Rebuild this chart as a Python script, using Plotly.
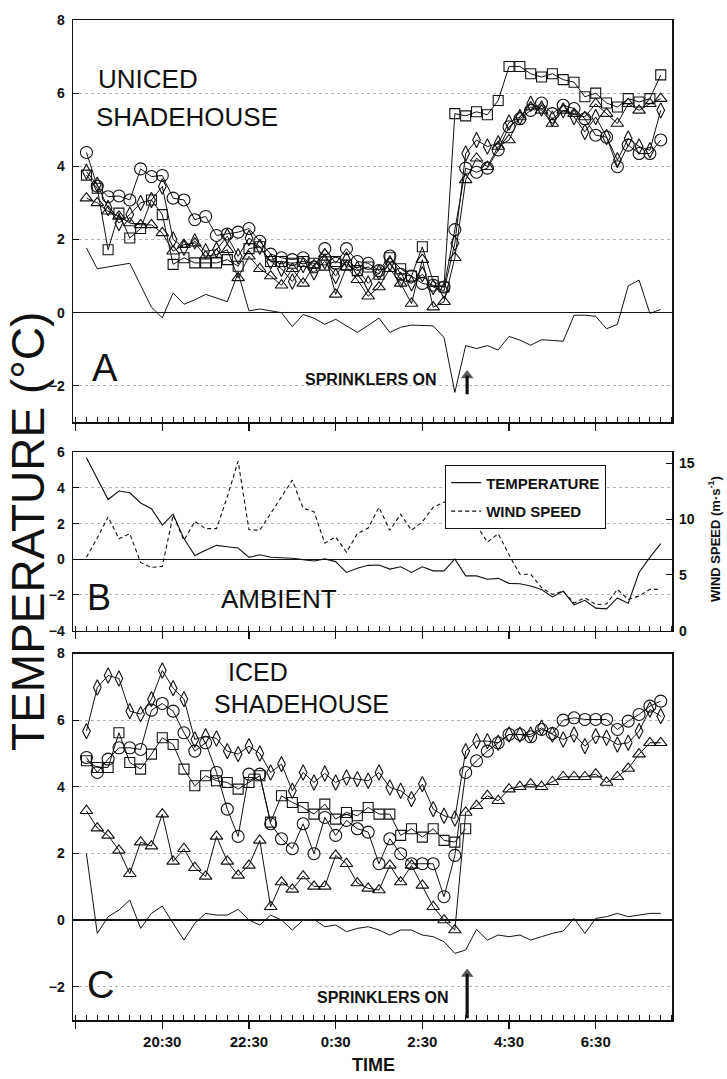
import plotly.graph_objects as go

# ---------------- data ----------------
TIMES = ["18:45", "19:00", "19:15", "19:30", "19:45", "20:00", "20:15", "20:30", "20:45", "21:00",
         "21:15", "21:30", "21:45", "22:00", "22:15", "22:30", "22:45", "23:00", "23:15", "23:30",
         "23:45", "0:00", "0:15", "0:30", "0:45", "1:00", "1:15", "1:30", "1:45", "2:00",
         "2:15", "2:30", "2:45", "3:00", "3:15", "3:30", "3:45", "4:00", "4:15", "4:30",
         "4:45", "5:00", "5:15", "5:30", "5:45", "6:00", "6:15", "6:30", "6:45", "7:00",
         "7:15", "7:30", "7:45", "8:00"]

TICK_LABELS = ["20:30", "22:30", "0:30", "2:30", "4:30", "6:30"]

# Panel A - uniced shadehouse
A_SQUARE = [3.76, 3.4, 1.72, 2.72, 2.04, 2.3, 3.08, 2.68, 1.32, 1.5, 1.36, 1.36, 1.36, 1.45, 1.27, 1.75,
            1.8, 1.4, 1.4, 1.35, 1.4, 1.35, 1.3, 1.4, 1.3, 1.15, 1.25, 1.05, 1.5, 1.2, 1.0, 1.8, 0.85, 0.7,
            5.44, 5.38, 5.49, 5.41, 5.8, 6.73, 6.73, 6.53, 6.44, 6.53, 6.37, 6.3, 5.9, 6.0, 5.73, 5.62,
            5.85, 5.76, 5.85, 6.5]
A_CIRCLE = [4.38, 3.46, 3.17, 3.19, 3.08, 3.93, 3.72, 3.75, 3.13, 3.08, 2.54, 2.63, 2.11, 2.15, 2.2, 2.3,
            1.95, 1.6, 1.5, 1.45, 1.5, 1.25, 1.75, 1.35, 1.75, 1.4, 1.35, 1.15, 1.55, 1.05, 1.0, 0.8, 0.75, 0.7,
            2.27, 3.95, 3.84, 3.95, 4.45, 5.08, 5.3, 5.53, 5.73, 5.44, 5.67, 5.58, 5.3, 4.85, 4.8, 3.99,
            4.58, 4.35, 4.35, 4.72]
A_DIAMOND = [3.85, 3.5, 2.86, 2.45, 2.68, 3.0, 3.08, 3.45, 2.0, 1.77, 1.95, 1.68, 1.72, 2.09, 1.54, 2.04,
             1.8, 1.4, 1.2, 0.85, 1.3, 1.1, 1.4, 1.0, 1.45, 1.2, 0.8, 1.1, 1.35, 0.9, 0.8, 1.05, 0.7, 0.6,
             1.9, 4.35, 4.72, 4.54, 4.63, 5.2, 5.35, 5.71, 5.58, 5.3, 5.53, 5.35, 4.94, 5.35, 4.8, 4.17,
             4.76, 4.54, 4.44, 5.53]
A_TRIANGLE = [3.13, 3.0, 2.77, 2.63, 2.45, 2.4, 2.4, 2.18, 1.68, 1.86, 1.9, 1.54, 1.59, 1.72, 0.95, 1.54,
              1.2, 1.0, 0.75, 1.2, 0.8, 1.3, 1.6, 0.5, 1.25, 0.9, 0.45, 0.7, 1.2, 0.8, 0.25, 1.45, 0.15, 0.3,
              1.5, 3.63, 4.22, 3.99, 4.54, 4.72, 5.35, 5.62, 5.53, 5.17, 5.53, 5.44, 5.35, 5.71, 5.44, 5.17,
              5.71, 5.53, 5.71, 5.85]
A_LINE = [1.77, 1.2, 1.25, 1.3, 1.35, 0.75, 0.15, -0.14, 0.54, 0.23, 0.35, 0.5, 0.4, 0.3, 1.09, 0.05,
          0.1, 0.05, 0.0, -0.38, -0.05, -0.15, -0.32, -0.18, -0.35, -0.54, -0.35, -0.15, -0.54, -0.4,
          -0.34, -0.35, -0.36, -0.68, -2.18, -0.9, -0.98, -0.9, -1.02, -0.65, -0.75, -0.89, -0.74, -0.76,
          -0.78, -0.07, -0.07, -0.1, -0.44, -0.32, 0.73, 0.89, -0.02, 0.09]

# Panel B - ambient
B_TEMP = [5.7, 4.5, 3.35, 3.83, 3.73, 3.16, 2.84, 1.92, 2.53, 1.16, 0.21, 0.5, 0.78, 0.7, 0.63, 0.11,
          0.25, 0.11, 0.08, 0.06, -0.02, -0.1, 0.02, -0.13, -0.74, -0.5, -0.34, -0.32, -0.55, -0.42,
          -0.74, -0.42, -0.65, -0.65, 0.02, -0.93, -0.93, -1.12, -1.07, -1.35, -1.37, -1.5, -1.7, -2.11,
          -1.79, -2.55, -2.3, -2.74, -2.78, -2.17, -2.46, -0.74, 0.11, 0.88]
B_WIND = [6.58, 8.3, 10.2, 8.24, 8.7, 6.12, 5.67, 5.76, 10.36, 8.1, 9.8, 9.15, 9.15, 12.0, 15.2, 9.06,
          9.0, 10.5, 12.0, 13.5, 10.97, 10.67, 7.85, 8.4, 7.03, 8.7, 9.2, 11.06, 9.0, 10.45, 9.0, 9.76,
          11.06, 11.5, 12.0, 11.0, 9.5, 7.94, 8.7, 6.8, 5.06, 5.06, 3.85, 3.24, 3.55, 2.48, 2.94, 2.33,
          2.4, 3.7, 2.79, 3.1, 3.7, 3.7]

# Panel C - iced shadehouse
C_SQUARE = [4.78, 4.58, 4.58, 5.62, 4.73, 4.53, 4.98, 5.47, 5.27, 4.53, 4.03, 4.33, 4.18, 4.13, 3.93, 4.13,
            4.33, 2.94, 3.73, 3.53, 3.38, 3.18, 3.48, 3.03, 3.23, 3.13, 3.38, 3.18, 3.18, 2.54, 2.74, 2.49,
            2.74, 2.39, 2.34, 2.74] + [None] * 18
C_CIRCLE = [4.88, 4.43, 4.83, 5.17, 5.17, 5.12, 6.3, 6.5, 6.27, 5.62, 5.07, 5.32, 4.43, 3.33, 2.51, 4.38,
            4.38, 2.89, 2.44, 2.14, 2.89, 1.99, 3.08, 2.54, 2.99, 2.74, 2.64, 1.69, 2.44, 1.99, 1.69, 1.69,
            1.69, 0.7, 1.94, 4.43, 4.78, 5.07, 5.32, 5.57, 5.57, 5.5, 5.72, 5.6, 6.0, 6.07, 6.02, 6.02,
            6.02, 5.72, 5.97, 6.17, 6.42, 6.57]
C_DIAMOND = [5.67, 6.98, 7.34, 7.25, 6.27, 6.18, 6.63, 7.49, 6.96, 6.63, 5.42, 5.52, 5.45, 5.07, 4.98, 5.22,
             5.0, 4.43, 4.68, 3.88, 4.43, 4.13, 4.4, 4.13, 4.28, 4.23, 4.18, 4.43, 3.98, 3.88, 3.63, 4.08,
             3.33, 3.13, 3.05, 5.07, 5.37, 5.37, 5.32, 5.57, 5.57, 5.57, 5.77, 5.57, 5.42, 5.57, 5.22, 5.52,
             5.47, 5.27, 5.32, 5.67, 6.32, 6.12]
C_TRIANGLE = [3.28, 2.76, 2.54, 2.09, 1.39, 2.34, 2.22, 3.18, 1.76, 2.14, 1.57, 1.31, 2.51, 1.76, 1.34, 1.64,
              2.39, 0.4, 1.14, 0.92, 1.32, 1.01, 1.01, 1.94, 1.69, 1.11, 0.95, 0.9, 1.64, 1.14, 1.64, 1.04,
              0.4, 0.0, -0.3, 3.23, 3.43, 3.73, 3.58, 3.93, 4.0, 4.08, 4.0, 4.15, 4.3, 4.3, 4.3, 4.38,
              4.13, 4.3, 4.55, 4.98, 5.32, 5.32]
C_LINE = [1.99, -0.4, 0.1, 0.3, 0.6, -0.25, 0.2, 0.42, -0.1, -0.6, -0.1, 0.2, 0.15, 0.15, 0.32, 0.0,
          -0.15, 0.15, 0.0, -0.3, 0.0, 0.02, -0.2, -0.15, -0.35, -0.25, -0.2, -0.3, -0.45, -0.3, -0.3,
          -0.45, -0.5, -0.65, -1.0, -0.9, -0.28, -0.6, -0.45, -0.5, -0.45, -0.6, -0.5, -0.4, -0.33, 0.05,
          -0.4, 0.05, 0.1, 0.2, 0.1, 0.15, 0.2, 0.2]

SPRINKLER_TIME = "3:32"
ARROW_A = [-2.23, -1.72]   # tail, head (panel A, deg C)
ARROW_C = [-2.95, -1.62]   # tail, head (panel C, deg C)


def to_hours(s):
    hh, mm = s.split(":")
    h = int(hh) + int(mm) / 60.0
    return h + 24 if h < 12 else h


X = [to_hours(s) for s in TIMES]
TICK_VALS = [to_hours(s) for s in TICK_LABELS]
ALIAS = {f"{v:g}": lab for v, lab in zip(TICK_VALS, TICK_LABELS)}
ALIAS[f"{TICK_VALS[0] - 2:g}"] = " "   # 18:30 tick at the left edge carries no label
X_SPR = to_hours(SPRINKLER_TIME)

FONT = "Liberation Sans"
BLACK = "#111111"

fig = go.Figure()


def marker_trace(y, sym, size, xa, ya):
    fig.add_trace(go.Scatter(
        x=X, y=y, xaxis=xa, yaxis=ya, mode="lines+markers", showlegend=False,
        line=dict(color=BLACK, width=1),
        marker=dict(symbol=sym, size=size, color=BLACK, line=dict(width=1.1, color=BLACK)),
        connectgaps=False, hoverinfo="skip"))


def line_trace(y, xa, ya):
    fig.add_trace(go.Scatter(x=X, y=y, xaxis=xa, yaxis=ya, mode="lines", showlegend=False,
                             line=dict(color=BLACK, width=1), hoverinfo="skip"))


def arrow_trace(yy, xa, ya):
    fig.add_trace(go.Scatter(x=[X_SPR, X_SPR], y=yy, xaxis=xa, yaxis=ya, mode="lines+markers",
                             showlegend=False, hoverinfo="skip",
                             line=dict(color=BLACK, width=3.2),
                             marker=dict(symbol="triangle-up", size=[0, 11], color=BLACK,
                                         line=dict(width=0))))


# Panel A
line_trace(A_LINE, "x", "y")
marker_trace(A_TRIANGLE, "triangle-up-open", 11, "x", "y")
marker_trace(A_DIAMOND, "diamond-tall-open", 11, "x", "y")
marker_trace(A_CIRCLE, "circle-open", 12, "x", "y")
marker_trace(A_SQUARE, "square-open", 10, "x", "y")
arrow_trace(ARROW_A, "x", "y")

# Panel B
fig.add_trace(go.Scatter(x=X, y=B_TEMP, xaxis="x2", yaxis="y2", mode="lines", name="TEMPERATURE",
                         legendgroup="t", line=dict(color=BLACK, width=1.1), hoverinfo="skip"))
fig.add_trace(go.Scatter(x=X, y=B_WIND, xaxis="x2", yaxis="y4", mode="lines", name="WIND SPEED",
                         legendgroup="w", line=dict(color=BLACK, width=1.1, dash="4px,3px"),
                         hoverinfo="skip"))

# Panel C
line_trace(C_LINE, "x3", "y3")
marker_trace(C_TRIANGLE, "triangle-up-open", 11, "x3", "y3")
marker_trace(C_DIAMOND, "diamond-tall-open", 11, "x3", "y3")
marker_trace(C_CIRCLE, "circle-open", 12, "x3", "y3")
marker_trace(C_SQUARE, "square-open", 10, "x3", "y3")
arrow_trace(ARROW_C, "x3", "y3")

XRANGE = [18.44, 32.26]
TICKFONT = dict(family=FONT, size=14, color=BLACK, weight="bold")


def xaxis(anchor, labels):
    return dict(
        domain=[0, 1], anchor=anchor, range=XRANGE,
        tickmode="linear", tick0=TICK_VALS[0], dtick=2, labelalias=ALIAS, showticklabels=labels,
        ticks="outside", ticklen=7, tickwidth=1.2, tickcolor=BLACK,
        minor=dict(tickmode="linear", tick0=TICK_VALS[0], dtick=0.25, ticks="inside", ticklen=5,
                   tickwidth=1, tickcolor=BLACK, showgrid=False),
        showline=True, linecolor=BLACK, linewidth=1.5, mirror=True,
        showgrid=False, zeroline=False, tickfont=dict(family=FONT, size=15, color=BLACK, weight="bold"),
    )


def yaxis(anchor, dom, rng, vals):
    return dict(
        domain=dom, anchor=anchor, range=rng, tickmode="array", tickvals=vals,
        ticks="inside", ticklen=6, tickwidth=1, tickcolor=BLACK,
        showline=True, linecolor=BLACK, linewidth=1.5, mirror=True,
        showgrid=True, gridcolor="#b4b4b4", griddash="dot", gridwidth=1,
        zeroline=True, zerolinecolor=BLACK, zerolinewidth=1.5,
        tickfont=TICKFONT, ticklabelstandoff=4,
    )


fig.update_layout(
    width=727, height=1079,
    margin=dict(l=73, r=55, t=16, b=59),
    paper_bgcolor="white", plot_bgcolor="white",
    font=dict(family=FONT, color=BLACK),
    xaxis=xaxis("y", False),
    xaxis2=xaxis("y2", False),
    xaxis3=xaxis("y3", True),
    yaxis=yaxis("x", [0.5976, 1.0], [-3, 8], [-2, 0, 2, 4, 6, 8]),
    yaxis2=yaxis("x2", [0.3894, 0.5677], [-4, 6], [-4, -2, 0, 2, 4, 6]),
    yaxis3=yaxis("x3", [0.0, 0.3665], [-3, 8], [-2, 0, 2, 4, 6, 8]),
    yaxis4=dict(overlaying="y2", side="right", anchor="x2", range=[0, 16], tickmode="array",
                tickvals=[0, 5, 10, 15], ticks="inside", ticklen=6, tickcolor=BLACK,
                showline=False, showgrid=False, zeroline=False, tickfont=TICKFONT, ticklabelstandoff=6),
    legend=dict(x=0.621, y=0.5548, xanchor="left", yanchor="top", bgcolor="white",
                bordercolor=BLACK, borderwidth=1.2, tracegroupgap=6,
                font=dict(family=FONT, size=15, color=BLACK, weight="bold")),
    showlegend=True,
)


def px2paper(px, py):
    return (px - 73) / 599.0, (1020 - py) / 1004.0


def label(text, px, py, size, bold=False, anchor="left", yanchor="middle"):
    x, y = px2paper(px, py)
    fig.add_annotation(x=x, y=y, xref="paper", yref="paper", text=text, showarrow=False,
                       xanchor=anchor, yanchor=yanchor,
                       font=dict(family=FONT, size=size, color=BLACK, weight="bold" if bold else "normal"))


label("UNICED", 96, 75, 26)
label("SHADEHOUSE", 94, 113, 26)
label("A", 90, 365, 38)
label("SPRINKLERS ON", 439, 377, 16, bold=True, anchor="right")
label("B", 85, 596, 36)
label("AMBIENT", 219, 597, 26)
label("ICED", 226, 687, 25, yanchor="bottom")
label("SHADEHOUSE", 212, 687, 25, yanchor="top")
label("C", 85, 985, 38)
label("SPRINKLERS ON", 451, 997, 16, bold=True, anchor="right")
label("TIME", 373, 1065, 18, bold=True, anchor="center")

# rotated axis titles
x, y = px2paper(28, 530)
fig.add_annotation(x=x, y=y, xref="paper", yref="paper", text="TEMPERATURE (°C)", showarrow=False,
                   textangle=-90, xanchor="center", yanchor="middle",
                   font=dict(family=FONT, size=46, color=BLACK))
x, y = px2paper(714, 537)
fig.add_annotation(x=x, y=y, xref="paper", yref="paper", text="WIND SPEED (m·s<sup>-1</sup>)",
                   showarrow=False, textangle=-90, xanchor="center", yanchor="middle",
                   font=dict(family=FONT, size=13, color=BLACK, weight="bold"))

fig.write_html("out.html", config={"displayModeBar": False, "staticPlot": True},
               post_script="document.body.style.margin='0';document.body.style.overflow='hidden';")
